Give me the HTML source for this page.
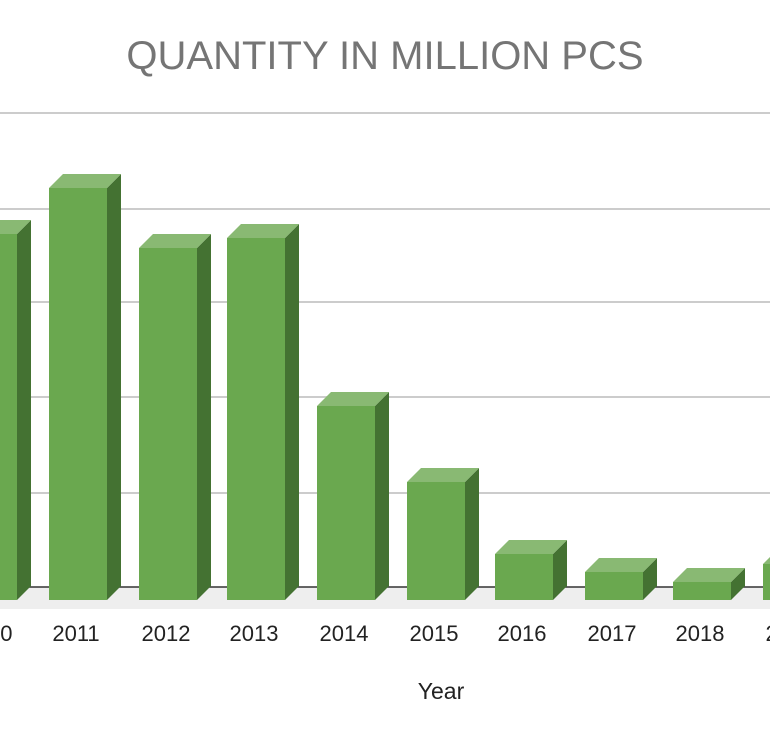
<!DOCTYPE html>
<html><head><meta charset="utf-8"><style>body{margin:0;background:#fff}svg{display:block}</style></head><body>
<svg width="770" height="741" xmlns="http://www.w3.org/2000/svg" font-family="Liberation Sans, sans-serif">
<rect width="770" height="741" fill="#fff"/>
<text x="385" y="69" text-anchor="middle" font-size="40" fill="#757575">QUANTITY IN MILLION PCS</text>
<g stroke="#cccccc" stroke-width="2">
<line x1="0" y1="113" x2="770" y2="113"/><line x1="0" y1="209" x2="770" y2="209"/>
<line x1="0" y1="302" x2="770" y2="302"/><line x1="0" y1="397" x2="770" y2="397"/>
<line x1="0" y1="493" x2="770" y2="493"/>
</g>
<polygon points="0,587 770,587 770,609 0,609" fill="#eeeeee"/>
<line x1="0" y1="587" x2="770" y2="587" stroke="#333" stroke-width="1.5"/>
<g>
<rect x="-41" y="234" width="58" height="366" fill="#6aa84f"/><polygon points="17,234 31,220 31,586 17,600" fill="#447232"/><polygon points="-41,234 -27,220 31,220 17,234" fill="#89b973"/>
<rect x="49" y="188" width="58" height="412" fill="#6aa84f"/><polygon points="107,188 121,174 121,586 107,600" fill="#447232"/><polygon points="49,188 63,174 121,174 107,188" fill="#89b973"/>
<rect x="139" y="248" width="58" height="352" fill="#6aa84f"/><polygon points="197,248 211,234 211,586 197,600" fill="#447232"/><polygon points="139,248 153,234 211,234 197,248" fill="#89b973"/>
<rect x="227" y="238" width="58" height="362" fill="#6aa84f"/><polygon points="285,238 299,224 299,586 285,600" fill="#447232"/><polygon points="227,238 241,224 299,224 285,238" fill="#89b973"/>
<rect x="317" y="406" width="58" height="194" fill="#6aa84f"/><polygon points="375,406 389,392 389,586 375,600" fill="#447232"/><polygon points="317,406 331,392 389,392 375,406" fill="#89b973"/>
<rect x="407" y="482" width="58" height="118" fill="#6aa84f"/><polygon points="465,482 479,468 479,586 465,600" fill="#447232"/><polygon points="407,482 421,468 479,468 465,482" fill="#89b973"/>
<rect x="495" y="554" width="58" height="46" fill="#6aa84f"/><polygon points="553,554 567,540 567,586 553,600" fill="#447232"/><polygon points="495,554 509,540 567,540 553,554" fill="#89b973"/>
<rect x="585" y="572" width="58" height="28" fill="#6aa84f"/><polygon points="643,572 657,558 657,586 643,600" fill="#447232"/><polygon points="585,572 599,558 657,558 643,572" fill="#89b973"/>
<rect x="673" y="582" width="58" height="18" fill="#6aa84f"/><polygon points="731,582 745,568 745,586 731,600" fill="#447232"/><polygon points="673,582 687,568 745,568 731,582" fill="#89b973"/>
<rect x="763" y="564" width="58" height="36" fill="#6aa84f"/><polygon points="763,564 777,550 835,550 821,564" fill="#89b973"/>
</g>
<g font-size="22" fill="#222" text-anchor="middle">
<text x="-12" y="641">2010</text><text x="76" y="641">2011</text><text x="166" y="641">2012</text>
<text x="254" y="641">2013</text><text x="344" y="641">2014</text><text x="434" y="641">2015</text>
<text x="522" y="641">2016</text><text x="612" y="641">2017</text><text x="700" y="641">2018</text>
<text x="790" y="641">2019</text>
</g>
<text x="441" y="699" text-anchor="middle" font-size="23" fill="#222">Year</text>
</svg>
</body></html>
